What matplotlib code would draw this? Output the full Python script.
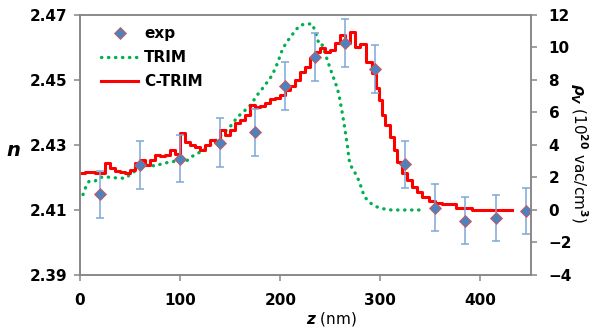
import numpy as np
import matplotlib
matplotlib.use("Agg")
from matplotlib import pyplot as plt

plt.rcParams['font.family'] = ['DejaVu Sans']
plt.rcParams['font.weight'] = 'bold'
plt.rcParams['mathtext.fontset'] = 'custom'
plt.rcParams['mathtext.it'] = 'DejaVu Sans:bold:italic'
plt.rcParams['mathtext.rm'] = 'DejaVu Sans:bold'
plt.rcParams['mathtext.bf'] = 'DejaVu Sans:bold'

# experimental refractive index (left axis)
exp_z = [20, 60, 100, 140, 175, 205, 235, 265, 295, 325, 355, 385, 415, 445]
exp_n = [2.4148, 2.4238, 2.4258, 2.4307, 2.4339, 2.4482, 2.4572, 2.4613,
         2.4533, 2.4241, 2.4107, 2.4067, 2.4076, 2.4097]
exp_err = [0.0072, 0.0073, 0.0073, 0.0075, 0.0072, 0.0073, 0.0074, 0.0074,
           0.0074, 0.0072, 0.0072, 0.0073, 0.0071, 0.0072]

# TRIM vacancy density (right axis)
trim_z = [3, 5.5, 9, 15, 20, 25, 32, 38, 45, 55, 62, 68, 75, 81, 88, 95, 100,
          106, 112, 118, 124, 130, 136, 142, 149, 157, 166, 171, 176, 180,
          185, 192, 197, 202, 206, 211, 215, 220, 227, 232, 235, 239, 242,
          247, 250.5, 254, 257, 259, 260.5, 262, 264, 265.5, 267, 268.8,
          271.5, 275.5, 279, 281.5, 284, 289.5, 296, 304, 311, 344]
trim_v = [0.95, 1.37, 1.76, 1.78, 2.0, 2.05, 1.99, 1.97, 1.95, 2.4, 2.6, 2.8,
          2.7, 2.83, 2.93, 3.0, 3.0, 3.0, 3.3, 3.5, 3.7, 4.0, 4.3, 4.7, 5.05,
          5.7, 6.2, 6.5, 7.0, 7.3, 7.7, 8.3, 9.0, 9.85, 10.3, 10.7, 11.05,
          11.38, 11.45, 11.45, 10.97, 10.15, 10.15, 9.23, 8.6, 8.0, 7.49,
          6.97, 6.46, 5.95, 5.2, 4.6, 4.0, 3.08, 2.6, 2.2, 1.74, 1.27, 0.82,
          0.45, 0.2, 0.06, 0.0, 0.0]

# C-TRIM vacancy density, step histogram (bin starts, right axis)
ctrim_z = [0, 5, 10, 15, 20, 25, 30, 35, 40, 45, 50, 55, 60, 65, 70, 75, 80,
           85, 90, 95, 100, 105, 110, 115, 120, 125, 130, 135, 140, 145, 150,
           155, 160, 165, 170, 175, 180, 185, 190, 195, 200, 205, 210, 215,
           220, 225, 230, 235, 240, 245, 250, 255, 260, 265, 270, 275, 280,
           286, 292, 296, 299, 302, 305, 310, 314, 317, 322, 327, 332, 337,
           342, 349, 355, 362, 376, 392, 431]
ctrim_v = [2.30, 2.36, 2.36, 2.30, 2.30, 2.87, 2.57, 2.40, 2.36, 2.26, 2.46,
           2.87, 3.08, 2.77, 3.08, 3.38, 3.30, 3.38, 3.69, 3.45, 4.72, 4.20,
           4.00, 3.90, 3.69, 4.00, 4.31, 4.20, 4.92, 4.62, 4.92, 5.33, 5.54,
           5.85, 6.46, 6.36, 6.40, 6.60, 6.80, 6.90, 7.10, 7.40, 7.60, 8.00,
           8.50, 8.82, 9.33, 9.74, 9.95, 9.70, 9.85, 10.30, 10.77, 10.26,
           10.97, 10.05, 10.20, 9.13, 8.41, 7.49, 6.77, 5.85, 5.23, 4.50,
           3.69, 2.97, 2.26, 1.85, 1.43, 1.13, 0.82, 0.57, 0.45, 0.35, 0.14,
           0.02, 0.02]

gray = '#868686'

fig = plt.figure(figsize=(5.94, 3.31), dpi=100)
ax = fig.add_axes([0.1347, 0.1692, 0.7585, 0.7855])
ax2 = ax.twinx()
ax.set_zorder(ax2.get_zorder() + 1)
ax.patch.set_visible(False)

l_trim, = ax2.plot(trim_z, trim_v, color='#00B050', lw=2.4,
                   dashes=(0.1, 2.0), dash_capstyle='round', label='TRIM')
l_ctrim, = ax2.step(ctrim_z, ctrim_v, where='post', color='#FF0000',
                    lw=2.2, label='C-TRIM')

ax.errorbar(exp_z, exp_n, yerr=exp_err, fmt='none', ecolor='#7FA7D9',
            elinewidth=1.1, capsize=2.8, capthick=1.1)
l_exp, = ax.plot(exp_z, exp_n, 'D', ms=6.3, mfc='#4F81BD', mec='#D9534F',
                 mew=0.6, ls='none', label='exp')

ax.set_xlim(0, 450)
ax.set_ylim(2.39, 2.47)
ax.set_xticks([0, 100, 200, 300, 400])
ax.set_yticks([2.39, 2.41, 2.43, 2.45, 2.47])
ax2.set_ylim(-4, 12)
ax2.set_yticks(np.arange(-4, 13, 2))

for a in (ax, ax2):
    for s in a.spines.values():
        s.set_color(gray)
        s.set_linewidth(1.1)
ax.tick_params(axis='both', colors=gray, labelcolor='black', length=4,
               width=1.1, labelsize=11)
ax.tick_params(axis='y', pad=5)
ax.tick_params(axis='x', pad=9)
ax2.tick_params(axis='y', colors=gray, labelcolor='black', length=4,
                width=1.1, labelsize=11, pad=9)

ax.set_ylabel('$n$', rotation=0, fontsize=14, ha='center', va='center')
ax.yaxis.set_label_coords(-0.147, 0.48)
ax.set_xlabel('$z$ (nm)', fontsize=11)
ax.xaxis.set_label_coords(0.558, -0.135)
ax2.set_ylabel(r'$\rho_V$ (10$^{20}$ vac/cm$^3$)', rotation=270, fontsize=11,
               ha='center', va='center')
ax2.yaxis.set_label_coords(1.108, 0.47)

ax.legend([l_exp, l_trim, l_ctrim], ['exp', 'TRIM', 'C-TRIM'],
          loc='upper left', bbox_to_anchor=(0.02, 1.005), frameon=False,
          fontsize=11, handlelength=2.4, handletextpad=0.4,
          labelspacing=0.6, borderpad=0.3)

fig.savefig('out.png', dpi=100)
